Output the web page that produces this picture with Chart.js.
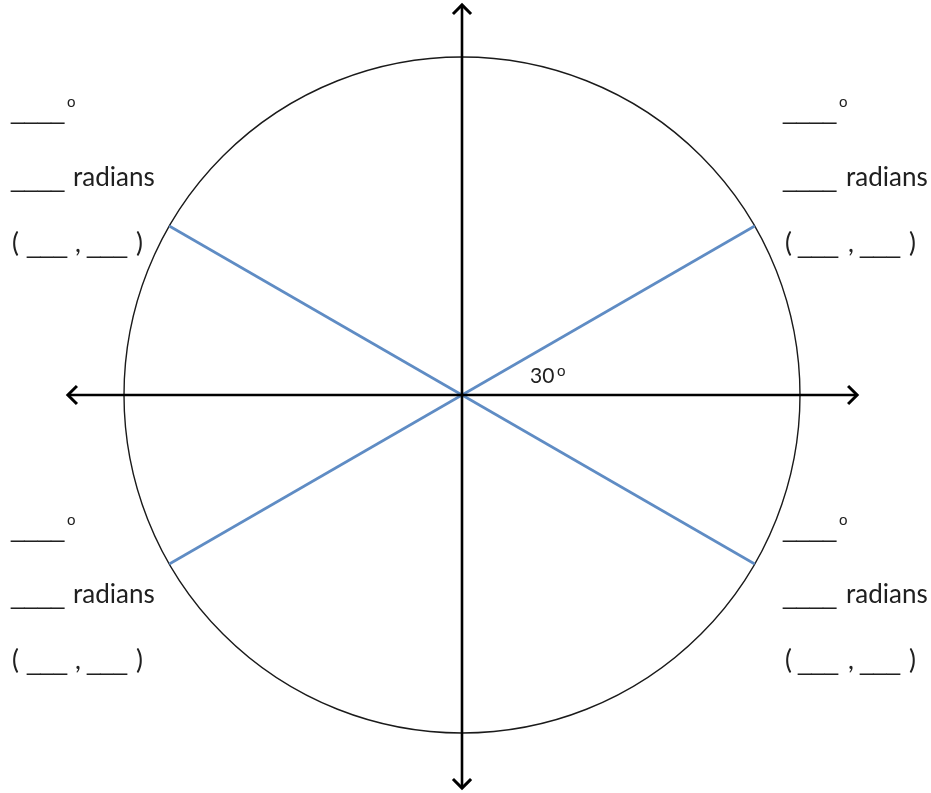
<!DOCTYPE html>
<html>
<head>
<meta charset="utf-8">
<script src="https://cdn.jsdelivr.net/npm/chart.js@4/dist/chart.umd.min.js"></script>
<style>
html,body{margin:0;padding:0;background:#fff;}
#wrap{position:relative;width:931px;height:793px;}
</style>
</head>
<body>
<div id="wrap"><canvas id="c"></canvas></div>
<script>
// ---- data ----
const rayAnglesDeg = [30, 150, 210, 330];      // terminal sides drawn in blue
const unitRadius = [1];                         // unit circle
const xAxisExtent = [-1.166, 1.169];            // horizontal axis ends (circle radii)
const yAxisExtent = [-1.163, 1.154];            // vertical axis ends (circle radii)
const degreeBlank = "____";
const degreeMark = "o";
const radiansBlank = "____";
const radiansWord = "radians";
const coordParts = ["(", "___", ",", "___", ")"];
const angleLabel = "30";
const angleMark = "o";

// ---- chart ----
const rayDatasets = rayAnglesDeg.map(a => ({
  data: [{x: 0, y: 0}, {x: unitRadius[0] * Math.cos(a * Math.PI / 180), y: unitRadius[0] * Math.sin(a * Math.PI / 180)}],
  borderColor: '#5f8cc4', borderWidth: 2.6, pointRadius: 0, showLine: true, order: 2
}));

const axisDatasets = [
  {data: [{x: xAxisExtent[0], y: 0}, {x: xAxisExtent[1], y: 0}], borderColor: '#000', borderWidth: 2.6, pointRadius: 0, showLine: true, order: 1},
  {data: [{x: 0, y: yAxisExtent[1]}, {x: 0, y: yAxisExtent[0]}], borderColor: '#000', borderWidth: 2.6, pointRadius: 0, showLine: true, order: 1}
];

const circlePlugin = {
  id: 'unitCircle',
  beforeDatasetsDraw(chart) {
    const {ctx, scales: {x, y}} = chart;
    const cx = x.getPixelForValue(0), cy = y.getPixelForValue(0);
    const r = x.getPixelForValue(unitRadius[0]) - cx;
    ctx.save();
    ctx.beginPath();
    ctx.arc(cx, cy, r, 0, Math.PI * 2);
    ctx.strokeStyle = '#1a1a1a';
    ctx.lineWidth = 1.4;
    ctx.stroke();
    ctx.restore();
  }
};

const arrowPlugin = {
  id: 'arrows',
  afterDatasetsDraw(chart) {
    const {ctx, scales: {x, y}} = chart;
    const s = 8;
    const heads = [
      [x.getPixelForValue(xAxisExtent[0]), y.getPixelForValue(0), -1, 0],
      [x.getPixelForValue(xAxisExtent[1]), y.getPixelForValue(0), 1, 0],
      [x.getPixelForValue(0), y.getPixelForValue(yAxisExtent[1]), 0, -1],
      [x.getPixelForValue(0), y.getPixelForValue(yAxisExtent[0]), 0, 1]
    ];
    ctx.save();
    ctx.strokeStyle = '#000';
    ctx.lineWidth = 3;
    ctx.lineCap = 'square';
    ctx.lineJoin = 'miter';
    heads.forEach(([px, py, dx, dy]) => {
      ctx.beginPath();
      ctx.moveTo(px - dx * s + dy * s, py - dy * s + dx * s);
      ctx.lineTo(px, py);
      ctx.lineTo(px - dx * s - dy * s, py - dy * s - dx * s);
      ctx.stroke();
    });
    ctx.restore();
  }
};

const labelPlugin = {
  id: 'worksheetLabels',
  afterDraw(chart) {
    const ctx = chart.ctx;
    const wordFont = '26px "Lato", "Open Sans", sans-serif';
    const lineFont = '24px "Liberation Sans", sans-serif';
    const markFont = '15px "Lato", sans-serif';
    ctx.save();
    ctx.fillStyle = '#202020';
    ctx.textBaseline = 'alphabetic';
    // per block: left x offset, row baselines [deg, rad, coord]
    const blocks = [
      {x: 0, rows: [119, 186, 252]},
      {x: 772, rows: [119, 186, 252]},
      {x: 0, rows: [537, 603, 669]},
      {x: 772, rows: [537, 603, 669]}
    ];
    blocks.forEach((b, i) => {
      const o = b.x;
      ctx.font = lineFont;
      ctx.fillText(degreeBlank, 11 + o, b.rows[0]);
      ctx.font = markFont;
      ctx.fillText(degreeMark, 67 + o, b.rows[0] - 12);
      ctx.font = lineFont;
      ctx.fillText(radiansBlank, 11 + o, b.rows[1] + 1);
      ctx.font = wordFont;
      ctx.fillText(radiansWord, 73 + o + (o ? 1 : 0), b.rows[1]);
      // coordinates
      const cx = o ? [785, 798, 848, 860, 909] : [12, 27, 75, 87, 136];
      coordParts.forEach((p, j) => {
        ctx.font = (p === "___") ? lineFont : wordFont;
        ctx.fillText(p, cx[j], b.rows[2] + (p === "___" ? 1 : 0));
      });
    });
    ctx.font = '21px "Lato", sans-serif';
    ctx.fillText(angleLabel, 530, 383);
    ctx.font = markFont;
    ctx.fillText(angleMark, 557, 376);
    ctx.restore();
  }
};

new Chart(document.getElementById('c'), {
  type: 'scatter',
  data: {datasets: [...axisDatasets, ...rayDatasets]},
  options: {
    responsive: true,
    maintainAspectRatio: false,
    animation: false,
    layout: {padding: 0},
    plugins: {legend: {display: false}, tooltip: {enabled: false}},
    scales: {
      x: {type: 'linear', display: false, min: -462 / 338, max: 469 / 338},
      y: {type: 'linear', display: false, min: -398 / 338, max: 395 / 338}
    }
  },
  plugins: [circlePlugin, arrowPlugin, labelPlugin]
});
</script>
</body>
</html>
